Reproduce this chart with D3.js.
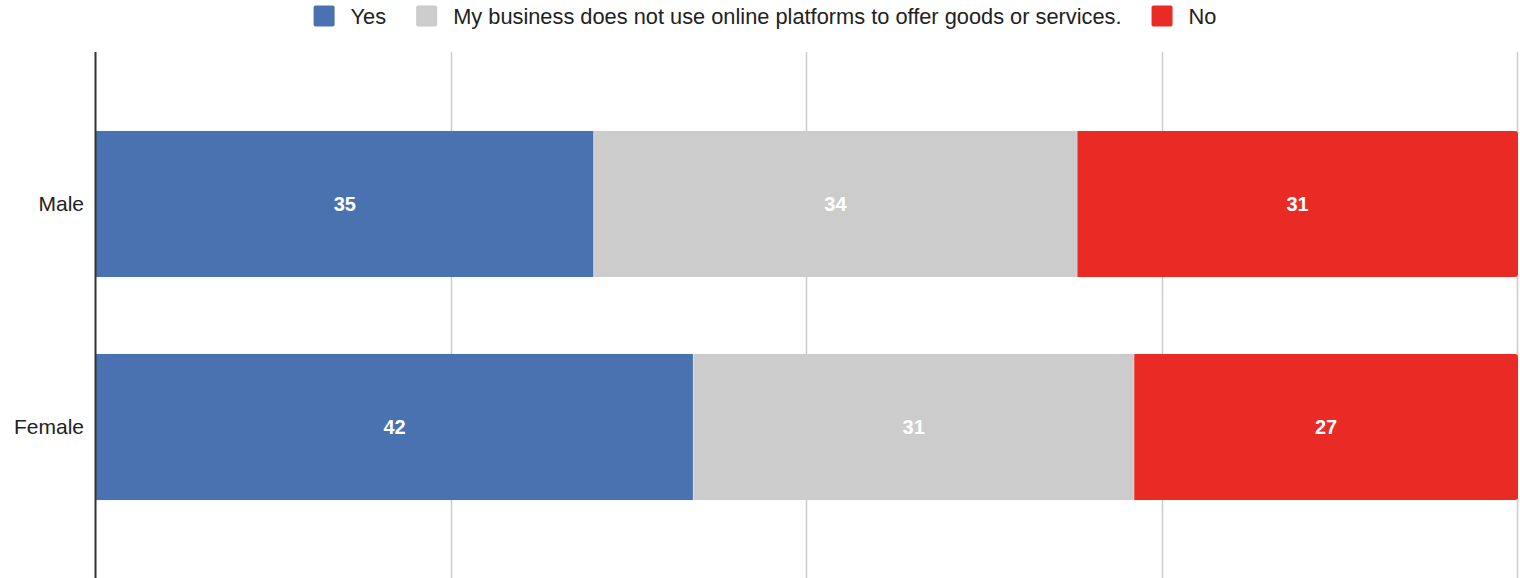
<!DOCTYPE html>
<html>
<head>
<meta charset="utf-8">
<script src="https://cdn.jsdelivr.net/npm/d3@7"></script>
<style>
  html, body { margin: 0; padding: 0; background: #fff; }
  svg { display: block; font-family: Arial, "Liberation Sans", sans-serif; }
</style>
</head>
<body>
<svg id="chart" width="1520" height="578"></svg>
<script>
// Share of respondents by gender (percent)
const categories = ["Male", "Female"];
const seriesNames = ["Yes", "My business does not use online platforms to offer goods or services.", "No"];
const yesValues = [35, 42];
const notUsedValues = [34, 31];
const noValues = [31, 27];
const xTicks = [0, 25, 50, 75, 100];

const colors = ["#4b72b0", "#cccccc", "#ea2a24"];
const seriesValues = [yesValues, notUsedValues, noValues];

const width = 1520, height = 578;
const margin = { top: 52, right: 2, bottom: -1, left: 96 };

const svg = d3.select("#chart");

const x = d3.scaleLinear().domain([0, 100]).range([margin.left, width - margin.right]);
const y = d3.scaleBand()
  .domain(categories)
  .range([margin.top, height - margin.bottom])
  .paddingInner(0.345)
  .paddingOuter(0.354);

// Gridlines
svg.append("g")
  .selectAll("line")
  .data(xTicks.filter(t => t > 0))
  .join("line")
  .attr("x1", d => Math.round(x(d)) - 0.5)
  .attr("x2", d => Math.round(x(d)) - 0.5)
  .attr("y1", margin.top)
  .attr("y2", height)
  .attr("stroke", "#cccccc")
  .attr("stroke-width", 1.5);

// Stack the series per category
const rows = categories.map((c, i) => {
  const o = { category: c };
  seriesNames.forEach((s, j) => { o[s] = seriesValues[j][i]; });
  return o;
});
const stacked = d3.stack().keys(seriesNames)(rows);

const barsG = svg.append("g");
stacked.forEach((layer, j) => {
  const isLast = j === stacked.length - 1;
  const g = barsG.append("g").attr("fill", colors[j]);
  layer.forEach((seg, i) => {
    const x0 = x(seg[0]), x1 = x(seg[1]);
    const y0 = y(categories[i]), h = y.bandwidth();
    const r = 3;
    if (isLast) {
      // right end of the stack gets slightly rounded corners
      const p = d3.path();
      p.moveTo(x0, y0);
      p.lineTo(x1 - r, y0);
      p.arcTo(x1, y0, x1, y0 + r, r);
      p.lineTo(x1, y0 + h - r);
      p.arcTo(x1, y0 + h, x1 - r, y0 + h, r);
      p.lineTo(x0, y0 + h);
      p.closePath();
      g.append("path").attr("d", p.toString());
    } else {
      g.append("rect")
        .attr("x", x0).attr("y", y0)
        .attr("width", x1 - x0).attr("height", h);
    }
    if (j > 0) {
      // thin light seam between adjacent segments
      barsG.append("line")
        .attr("x1", x0).attr("x2", x0)
        .attr("y1", y0).attr("y2", y0 + h)
        .attr("stroke", "#ffffff").attr("stroke-opacity", 0.35).attr("stroke-width", 1);
    }
    // value label
    svg.append("text")
      .attr("x", (x0 + x1) / 2)
      .attr("y", y0 + h / 2)
      .attr("dy", "0.35em")
      .attr("text-anchor", "middle")
      .attr("fill", "#ffffff")
      .attr("font-weight", "bold")
      .attr("font-size", 20)
      .text(seg.data[seriesNames[j]]);
  });
});

// Category axis
const yAxis = svg.append("g")
  .attr("transform", `translate(${margin.left},0)`)
  .call(d3.axisLeft(y).tickSize(0).tickPadding(12));
yAxis.select(".domain").remove();
yAxis.selectAll("text")
  .attr("font-size", 21)
  .attr("fill", "#222222")
  .attr("font-family", "Arial, 'Liberation Sans', sans-serif");

svg.append("line")
  .attr("x1", margin.left - 0.5).attr("x2", margin.left - 0.5)
  .attr("y1", margin.top).attr("y2", height)
  .attr("stroke", "#333333").attr("stroke-width", 2);

// Legend
const legend = svg.append("g");
const fs = 21.8, sw = 21, gapText = 16, gapItem = 30;
let cx = 0;
seriesNames.forEach((name, j) => {
  const item = legend.append("g");
  item.append("rect")
    .attr("x", 0).attr("y", -10.5).attr("width", sw).attr("height", sw)
    .attr("rx", 2).attr("fill", colors[j]);
  const t = item.append("text")
    .attr("x", sw + gapText).attr("y", 0).attr("dy", "0.35em")
    .attr("font-size", fs).attr("fill", "#222222").text(name);
  const w = sw + gapText + t.node().getComputedTextLength();
  item.attr("transform", `translate(${cx},0)`);
  cx += w + gapItem;
});
const totalW = cx - gapItem;
legend.attr("transform", `translate(${765 - totalW / 2},16)`);
</script>
</body>
</html>
